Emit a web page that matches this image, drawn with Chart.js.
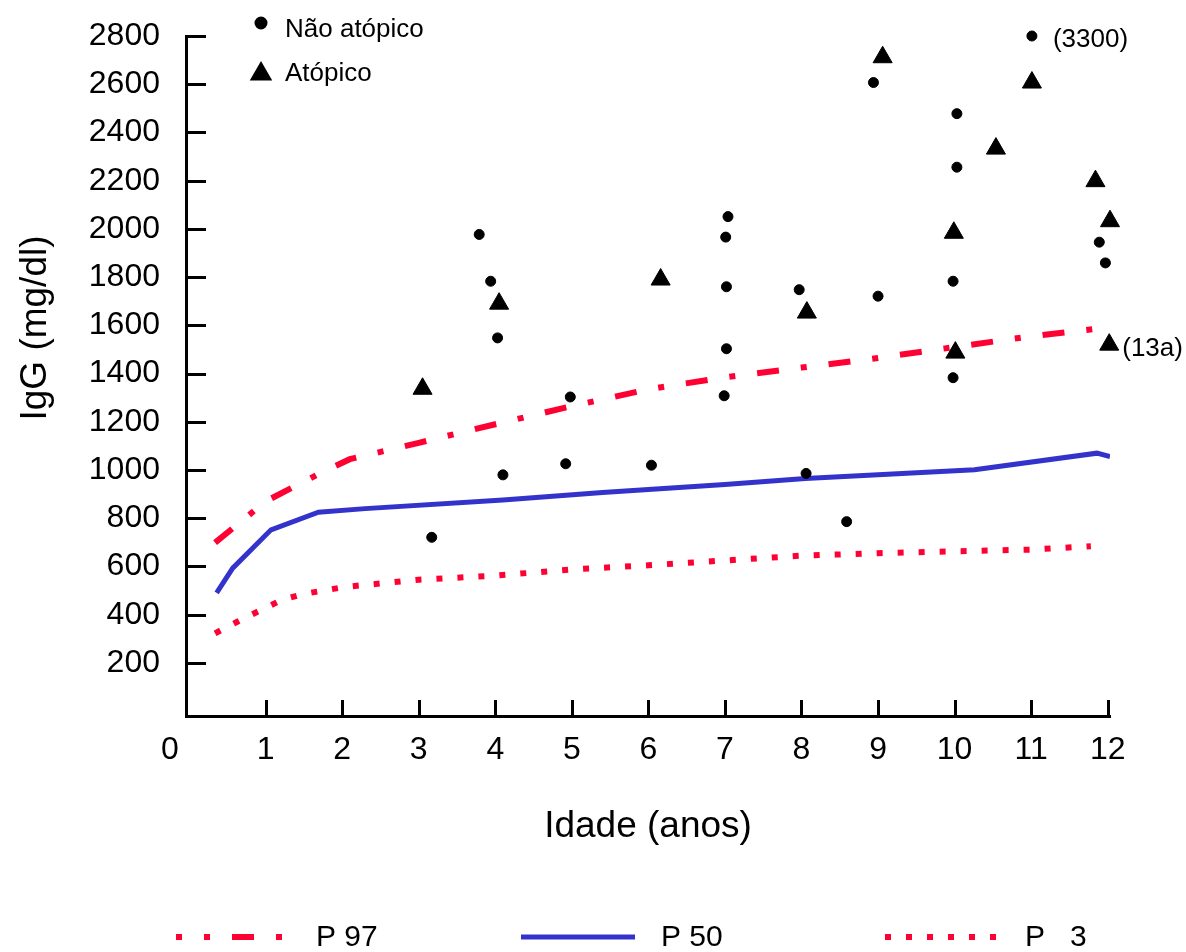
<!DOCTYPE html>
<html>
<head>
<meta charset="utf-8">
<script src="https://cdn.jsdelivr.net/npm/chart.js@4.4.1/dist/chart.umd.min.js"></script>
<style>
  html, body { margin: 0; padding: 0; background: #fff; }
  #wrap { width: 1186px; height: 952px; }
</style>
</head>
<body>
<div id="wrap"><canvas id="grafico"></canvas></div>
<script>
// eixos
var xTicks = [1, 2, 3, 4, 5, 6, 7, 8, 9, 10, 11, 12]
var yTicks = [200, 400, 600, 800, 1000, 1200, 1400, 1600, 1800, 2000, 2200, 2400, 2600, 2800]

// pontos - nao atopico
var naoAtopicoIdade = [3.17, 3.79, 3.94, 4.03, 4.10, 4.92, 4.98, 6.04, 6.99, 7.02, 7.02, 7.01, 7.04, 7.97, 8.06, 8.59, 8.94, 9.0, 9.98, 9.98, 10.03, 10.03, 11.01, 11.89, 11.97]
var naoAtopicoIgG = [721, 1977, 1783, 1548, 980, 1026, 1303, 1020, 1308, 1503, 1760, 1966, 2051, 1748, 986, 786, 2607, 1721, 1383, 1783, 2256, 2478, 2800, 1945, 1859]

// pontos - atopico
var atopicoIdade = [3.05, 4.05, 6.16, 8.07, 9.06, 9.99, 10.01, 10.54, 11.01, 11.84, 12.03, 12.02]
var atopicoIgG = [1337, 1690, 1790, 1653, 2712, 1984, 1487, 2333, 2607, 2198, 2032, 1520]

// percentis
var p97Idade = [0.34, 1.0, 1.7, 2.1, 3, 4, 5, 6, 7, 8, 9, 10, 11, 12]
var p97IgG = [699, 870, 985, 1045, 1113, 1190, 1265, 1335, 1385, 1425, 1465, 1510, 1555, 1591]
var p50Idade = [0.36, 0.57, 1.07, 1.69, 2.3, 4.1, 5.4, 7, 8.05, 9, 10.26, 11.86, 12.03]
var p50IgG = [491, 593, 752, 825, 840, 876, 907, 940, 965, 980, 1001, 1070, 1056]
var p3Idade = [0.34, 0.63, 0.91, 1.21, 1.48, 1.75, 2.03, 3, 4, 5, 6, 7, 8, 9, 10, 11, 11.78]
var p3IgG = [323, 371, 415, 461, 485, 500, 515, 545, 562, 588, 605, 625, 645, 655, 663, 670, 684]

// rotulos
var tituloX = 'Idade (anos)'
var tituloY = 'IgG (mg/dl)'
var notas = [
    { idade: 11.01, igg: 2800, texto: '(3300)' },
    { idade: 12.02, igg: 1520, texto: '(13a)' }
]

function pares(xs, ys) {
    return xs.map((x, i) => ({ x: x, y: ys[i] }))
}

var vermelho = '#ff0033'
var azul = '#3333cc'
var fonte = 'Liberation Sans, Arial, sans-serif'
Chart.defaults.font.family = fonte
Chart.defaults.color = '#000'

var extras = {
    id: 'extras',
    afterDraw(chart) {
        const ctx = chart.ctx
        const xs = chart.scales.x
        const ys = chart.scales.y
        const area = chart.chartArea
        ctx.save()

        // tracinhos para dentro
        ctx.strokeStyle = '#000'
        ctx.lineWidth = 3
        ctx.beginPath()
        yTicks.forEach(v => {
            const py = Math.round(ys.getPixelForValue(v)) + 0.5
            ctx.moveTo(area.left, py)
            ctx.lineTo(area.left + 20, py)
        })
        xTicks.forEach(v => {
            const px = Math.round(xs.getPixelForValue(v)) + 0.5
            ctx.moveTo(px, area.bottom)
            ctx.lineTo(px, area.bottom - 16)
        })
        ctx.stroke()

        // zero da origem
        ctx.fillStyle = '#000'
        ctx.font = '32px ' + fonte
        ctx.textAlign = 'center'
        ctx.textBaseline = 'middle'
        ctx.fillText('0', area.left - 16, 750)

        // titulo do eixo y
        ctx.save()
        ctx.translate(36, 328)
        ctx.rotate(-Math.PI / 2)
        ctx.font = '37px ' + fonte
        ctx.fillText(tituloY, 0, 0)
        ctx.restore()

        // notas
        ctx.font = '26px ' + fonte
        ctx.textAlign = 'left'
        ctx.textBaseline = 'alphabetic'
        notas.forEach((n, i) => {
            const px = xs.getPixelForValue(n.idade)
            const py = ys.getPixelForValue(n.igg)
            ctx.fillText(n.texto, px + (i == 0 ? 21 : 13), py + 11)
        })

        // legenda dos pontos (canto superior)
        const pts = chart.data.datasets.slice(0, 2)
        const legY = [23, 71]
        pts.forEach((ds, i) => {
            Chart.helpers.drawPoint(ctx, {
                pointStyle: ds.pointStyle,
                radius: i == 0 ? 5 : 10,
                borderWidth: 1,
                rotation: 0
            }, 261, legY[i] + (i == 0 ? 0 : 3))
            ctx.fillStyle = '#000'
            ctx.strokeStyle = '#000'
            ctx.fill()
            ctx.fillText(ds.label, 285, legY[i] + (i == 0 ? 14 : 10))
        })

        // legenda das curvas (embaixo)
        const linhas = chart.data.datasets.slice(2)
        const legX = [176, 521, 885]
        ctx.font = '30px ' + fonte
        ctx.textBaseline = 'middle'
        linhas.forEach((ds, i) => {
            ctx.save()
            ctx.strokeStyle = ds.borderColor
            ctx.lineWidth = ds.borderWidth
            ctx.setLineDash(ds.borderDash || [])
            ctx.lineDashOffset = i == 0 ? 16 : 0
            ctx.beginPath()
            ctx.moveTo(legX[i], 937)
            ctx.lineTo(legX[i] + 114, 937)
            ctx.stroke()
            ctx.restore()
            ctx.fillStyle = '#000'
            ctx.fillText(ds.label, legX[i] + 140, 938)
        })
        ctx.restore()
    }
}

new Chart(document.querySelector('#grafico'), {
    type: 'scatter',
    data: {
        datasets: [
            {
                label: 'Não atópico',
                data: pares(naoAtopicoIdade, naoAtopicoIgG),
                pointStyle: 'circle',
                pointRadius: 5,
                backgroundColor: '#000',
                borderColor: '#000',
                borderWidth: 1,
                clip: false
            },
            {
                label: 'Atópico',
                data: pares(atopicoIdade, atopicoIgG),
                pointStyle: 'triangle',
                pointRadius: 11,
                backgroundColor: '#000',
                borderColor: '#000',
                borderWidth: 1,
                clip: false
            },
            {
                type: 'line',
                label: 'P 97',
                data: pares(p97Idade, p97IgG),
                borderColor: vermelho,
                borderWidth: 6,
                borderDash: [22, 22, 6, 22],
                pointRadius: 0,
                tension: 0,
                fill: false
            },
            {
                type: 'line',
                label: 'P 50',
                data: pares(p50Idade, p50IgG),
                borderColor: azul,
                borderWidth: 5,
                pointRadius: 0,
                tension: 0,
                fill: false
            },
            {
                type: 'line',
                label: 'P   3',
                data: pares(p3Idade, p3IgG),
                borderColor: vermelho,
                borderWidth: 6,
                borderDash: [6, 15],
                pointRadius: 0,
                tension: 0,
                fill: false
            }
        ]
    },
    options: {
        responsive: true,
        maintainAspectRatio: false,
        animation: false,
        layout: {
            padding: { left: 0, right: 76, top: 36, bottom: 103 }
        },
        plugins: {
            legend: { display: false },
            tooltip: { enabled: false }
        },
        scales: {
            x: {
                type: 'linear',
                min: -0.04,
                max: 12.03,
                afterBuildTicks: scale => { scale.ticks = xTicks.map(v => ({ value: v })) },
                afterFit: scale => { scale.height = 133 },
                // tickLength so empurra os rotulos; os tracinhos sao desenhados no plugin
                grid: { display: false, drawTicks: true, tickLength: 15 },
                border: { display: true, color: '#000', width: 3 },
                ticks: {
                    font: { size: 32 },
                    padding: 0,
                    maxRotation: 0,
                    callback: v => String(v)
                },
                title: {
                    display: true,
                    text: tituloX,
                    font: { size: 37 },
                    padding: { top: 0, bottom: 0 }
                }
            },
            y: {
                type: 'linear',
                min: -20,
                max: 2800,
                afterBuildTicks: scale => { scale.ticks = yTicks.map(v => ({ value: v })) },
                afterFit: scale => { scale.width = 186 },
                grid: { display: false, drawTicks: true, tickLength: 26 },
                border: { display: true, color: '#000', width: 3 },
                ticks: {
                    font: { size: 32 },
                    padding: 0,
                    callback: v => String(v)
                }
            }
        }
    },
    plugins: [extras]
})
</script>
</body>
</html>
